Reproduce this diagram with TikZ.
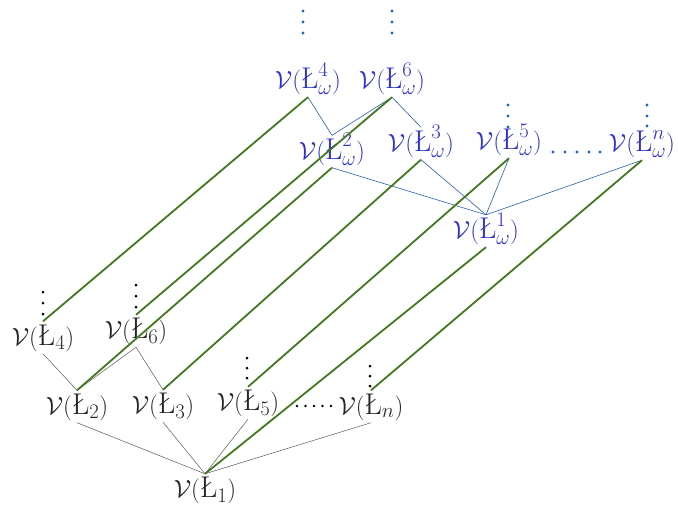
\documentclass[tikz,border=0pt]{standalone}
\usepackage{xcolor}
\definecolor{gr}{RGB}{66,120,30}
\definecolor{bl}{RGB}{45,50,205}
\definecolor{bline}{RGB}{40,95,175}
\definecolor{bdot}{RGB}{30,100,200}
\tikzset{
  lab/.style={inner sep=0pt, text height=23.5pt, text depth=8.5pt, font=\fontsize{30}{36}\selectfont},
  bk/.style={lab, text=black!85},
  bu/.style={lab, text=bl},
  gl/.style={draw=gr, line width=1.8pt},
  kl/.style={draw=black!65, line width=0.5pt},
  ul/.style={draw=bline, line width=0.6pt},
}
\begin{document}
\begin{tikzpicture}[x=1pt,y=-1pt]
\useasboundingbox (0,0) rectangle (678,507);
% black layer
\node[bk] (l1) at (205,490) {$\mathcal{V}(\mbox{\L}_1)$};
\node[bk] (l2) at (77,406.5) {$\mathcal{V}(\mbox{\L}_2)$};
\node[bk] (l3) at (163,406) {$\mathcal{V}(\mbox{\L}_3)$};
\node[bk] (l5) at (248,403) {$\mathcal{V}(\mbox{\L}_5)$};
\node[bk] (ln) at (371,406.5) {$\mathcal{V}(\mbox{\L}_n)$};
\node[bk] (l4) at (43,337.5) {$\mathcal{V}(\mbox{\L}_4)$};
\node[bk] (l6) at (136,331) {$\mathcal{V}(\mbox{\L}_6)$};
% blue layer
\node[bu] (w1) at (486,231) {$\mathcal{V}(\mbox{\L}^1_\omega)$};
\node[bu] (w2) at (332,151.5) {$\mathcal{V}(\mbox{\L}^2_\omega)$};
\node[bu] (w3) at (421,143.5) {$\mathcal{V}(\mbox{\L}^3_\omega)$};
\node[bu] (w5) at (509,142) {$\mathcal{V}(\mbox{\L}^5_\omega)$};
\node[bu] (wn) at (642,144) {$\mathcal{V}(\mbox{\L}^n_\omega)$};
\node[bu] (w4) at (308,81) {$\mathcal{V}(\mbox{\L}^4_\omega)$};
\node[bu] (w6) at (392,81) {$\mathcal{V}(\mbox{\L}^6_\omega)$};
% black connectors
\draw[kl] (l4.south) -- (l2.north);
\draw[kl] (l6.south) -- (l2.north);
\draw[kl] (l6.south) -- (l3.north);
\draw[kl] (l2.south) -- (l1.north);
\draw[kl] (l3.south) -- (l1.north);
\draw[kl] (l5.south) -- (l1.north);
\draw[kl] (ln.south) -- (l1.north);
% blue connectors
\draw[ul] (w4.south) -- (w2.north);
\draw[ul] (w6.south) -- (w2.north);
\draw[ul] (w6.south) -- (w3.north);
\draw[ul] (w2.south) -- (w1.north);
\draw[ul] (w3.south) -- (w1.north);
\draw[ul] (w5.south) -- (w1.north);
\draw[ul] (wn.south) -- (w1.north);
% green connectors
\draw[gl] (l4.north) -- (w4.south);
\draw[gl] (l6.north) -- (w6.south);
\draw[gl] (l2.north) -- (w2.south);
\draw[gl] (l3.north) -- (w3.south);
\draw[gl] (l5.north) -- (w5.south);
\draw[gl] (ln.north) -- (wn.south);
\draw[gl] (l1.north) -- (w1.south);
% vertical dots
\foreach \x/\y in {43/292,43/303,43/314,136/285,136/296,136/307,247/358,247/368,247/378,370/366,370/376,370/386}
  \fill[black] (\x,\y) circle (1.5pt);
\foreach \x/\y in {303/11,303/22,303/33,392/11,392/22,392/33,508/105,508/116,508/127,647/105,647/116,647/126}
  \fill[bdot] (\x,\y) circle (1.6pt);
% horizontal dots
\foreach \x in {297,305.5,314,322.5,331}
  \fill[black] (\x,406) circle (1.4pt);
\foreach \x in {553,565,577,589,600}
  \fill[bdot] (\x,152) circle (1.6pt);
\end{tikzpicture}
\end{document}
